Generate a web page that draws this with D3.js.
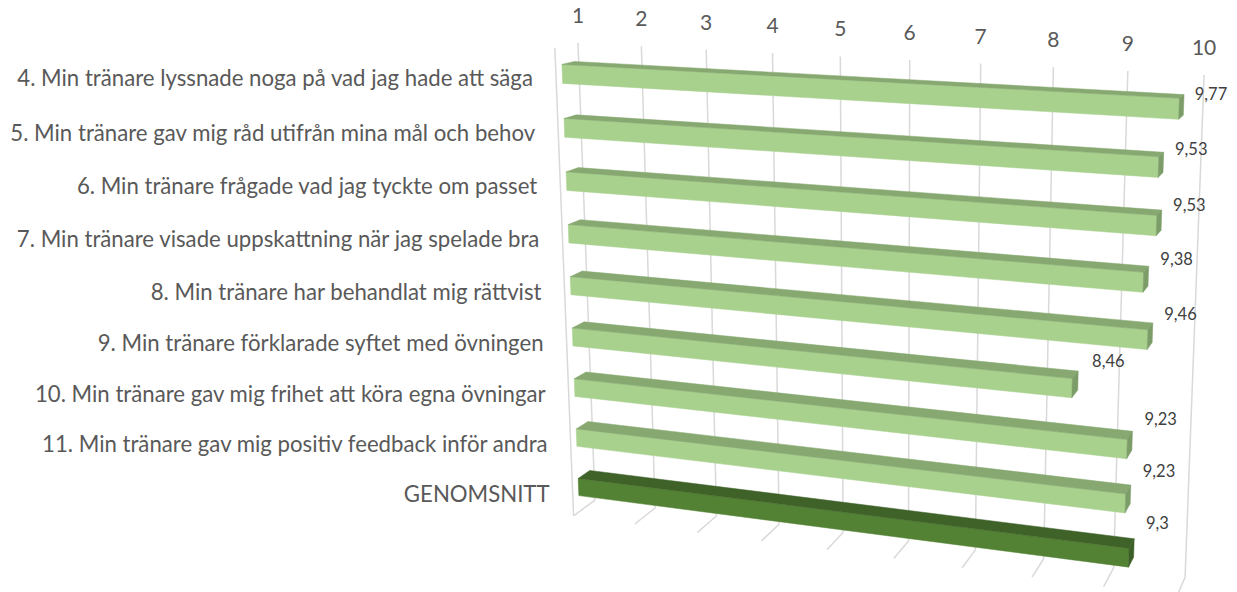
<!DOCTYPE html>
<html>
<head>
<meta charset="utf-8">
<script src="https://cdn.jsdelivr.net/npm/d3@7"></script>
<style>
  body { margin: 0; background: #fff; }
  text { font-family: Lato, "Open Sans", sans-serif; }
</style>
</head>
<body>
<div id="chart"></div>
<script>
// data
const categories = [
  "4. Min tränare lyssnade noga på vad jag hade att säga",
  "5. Min tränare gav mig råd utifrån mina mål och behov",
  "6. Min tränare frågade vad jag tyckte om passet",
  "7. Min tränare visade uppskattning när jag spelade bra",
  "8. Min tränare har behandlat mig rättvist",
  "9. Min tränare förklarade syftet med övningen",
  "10. Min tränare gav mig frihet att köra egna övningar",
  "11. Min tränare gav mig positiv feedback inför andra",
  "GENOMSNITT"
];
const values = [9.77, 9.53, 9.53, 9.38, 9.46, 8.46, 9.23, 9.23, 9.3];
const ticks = [1, 2, 3, 4, 5, 6, 7, 8, 9, 10];
const avgCategory = "GENOMSNITT";

const width = 1237, height = 592;

// perspective camera (fitted to the vanishing points of the original)
const cam = { cx: 1004, cy: 188, f: 1700 };
const origin = [-0.2506, -0.0853, 1];      // back / top / value 1, camera space
const ex = [0.9617, 0.0684, -0.2656];      // value axis (right)
const ey = [-0.0137, 0.9792, 0.2026];      // downwards
const ez = [-0.2739, 0.1913, -0.9426];     // towards the viewer
const W = 0.3709, H = 0.2855, D = 0.026;   // box size
const barBack = 0.005, barFront = 0.019;   // bar depth inside the box

function project(a, b, c) {
  const p = [0, 1, 2].map(i => origin[i] + a * ex[i] + b * ey[i] + c * ez[i]);
  return [cam.cx + cam.f * p[0] / p[2], cam.cy + cam.f * p[1] / p[2]];
}

const x = d3.scaleLinear().domain([1, 10]).range([0, W]);
const y = d3.scaleBand().domain(categories).range([0, H])
  .paddingInner(0.65).paddingOuter(0.325);

const fmt = d3.formatLocale({ decimal: ",", thousands: " ", grouping: [3], currency: ["", ""] }).format("~g");

const svg = d3.select('#chart')
  .append('svg')
  .attr('width', width)
  .attr('height', height);

svg.append('rect').attr('width', width).attr('height', height).attr('fill', '#fff');

const line = d3.line();

// gridlines: back wall + floor
const grid = svg.append('g')
  .attr('fill', 'none')
  .attr('stroke', '#d9d9d9')
  .attr('stroke-width', 1.5);

ticks.forEach(t => {
  grid.append('path').attr('d', line([project(x(t), 0, 0), project(x(t), H, 0)]));
  grid.append('path').attr('d', line([project(x(t), H, 0), project(x(t), H, D)]));
});
// front edge of the side wall
grid.append('path').attr('d', line([project(0, 0, D), project(0, H, D)]));

// tick labels on top
svg.append('g')
  .selectAll('text')
  .data(ticks)
  .enter().append('text')
    .attr('x', t => project(x(t), 0, 0)[0])
    .attr('y', t => project(x(t), 0, 0)[1] - 20)
    .attr('text-anchor', 'middle')
    .attr('font-size', 21)
    .attr('fill', '#595959')
    .text(t => t);

// category labels
svg.append('g')
  .selectAll('text')
  .data(categories)
  .enter().append('text')
    .attr('x', d => project(0, y(d) + y.bandwidth() / 2, D)[0] - 23)
    .attr('y', d => project(0, y(d) + y.bandwidth() / 2, D)[1] + 11)
    .attr('text-anchor', 'end')
    .attr('font-size', 22.2)
    .attr('fill', '#595959')
    .text(d => d);

// bars
const rows = categories.map((c, i) => ({ cat: c, value: values[i] }));

function barColors(d) {
  return d.cat === avgCategory
    ? { front: '#548235', top: '#3f6229', end: '#3c5e27' }
    : { front: '#a9d18e', top: '#87a971', end: '#7d9d68' };
}

const bars = svg.append('g')
  .selectAll('g')
  .data(rows)
  .enter().append('g');

bars.each(function(d) {
  const g = d3.select(this);
  const a1 = x(d.value), b0 = y(d.cat), b1 = b0 + y.bandwidth();
  const col = barColors(d);
  const faces = [
    { pts: [[0, b0, barFront], [a1, b0, barFront], [a1, b1, barFront], [0, b1, barFront]], fill: col.front },
    { pts: [[0, b0, barBack], [a1, b0, barBack], [a1, b0, barFront], [0, b0, barFront]], fill: col.top },
    { pts: [[a1, b0, barFront], [a1, b0, barBack], [a1, b1, barBack], [a1, b1, barFront]], fill: col.end }
  ];
  faces.forEach(f => {
    g.append('path')
      .attr('d', line(f.pts.map(p => project(p[0], p[1], p[2]))) + 'Z')
      .attr('fill', f.fill)
      .attr('stroke', f.fill)
      .attr('stroke-width', 0.5);
  });
});

// value labels
svg.append('g')
  .selectAll('text')
  .data(rows)
  .enter().append('text')
    .attr('x', d => project(x(d.value), y(d.cat) + y.bandwidth() / 2, -0.03)[0])
    .attr('y', d => project(x(d.value), y(d.cat) + y.bandwidth() / 2, -0.03)[1])
    .attr('dominant-baseline', 'middle')
    .attr('font-size', 16.5)
    .attr('fill', '#404040')
    .text(d => fmt(d.value));
</script>
</body>
</html>
